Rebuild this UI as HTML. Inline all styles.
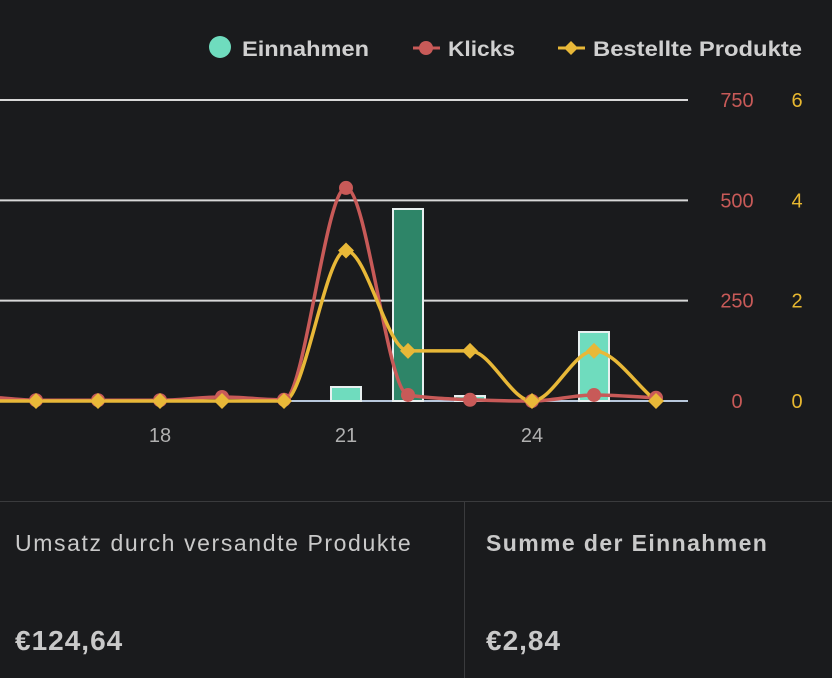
<!DOCTYPE html>
<html><head><meta charset="utf-8"><style>
body{margin:0;width:832px;height:678px;background:#1a1b1d;overflow:hidden;font-family:"Liberation Sans",sans-serif}
svg{position:absolute;left:0;top:0}
.p{position:absolute;color:#c9c9c9;white-space:nowrap}
</style></head><body>
<svg width="832" height="678" id="c"></svg>
<div class="p" style="left:0;top:501px;width:832px;height:1px;background:#3a3b3d"></div>
<div class="p" style="left:464px;top:501px;width:1px;height:177px;background:#3a3b3d"></div>
<div class="p" style="left:15px;top:530px;font-size:23px;letter-spacing:1.6px">Umsatz durch versandte Produkte</div>
<div class="p" style="left:15px;top:625px;font-size:28px;font-weight:bold;letter-spacing:1px">€124,64</div>
<div class="p" style="left:486px;top:530px;font-size:23px;font-weight:bold;letter-spacing:1.4px">Summe der Einnahmen</div>
<div class="p" style="left:486px;top:625px;font-size:28px;font-weight:bold;letter-spacing:1px">€2,84</div>
<script>
const days=[15.4,16,17,18,19,20,21,22,23,24,25,26];
const clicks=[8,2,2,2,10,3,531,15,3,0,15,8];
const orders=[0,0,0,0,0,0,3,1,1,0,1,0];
const barDays=[21,22,23,25];
const earnings=[0.14,1.92,0.05,0.69];
const xTicks=[18,21,24];
const clickTicks=[0,250,500,750];
const orderTicks=[0,2,4,6];
const NS="http://www.w3.org/2000/svg";
const svg=document.getElementById('c');
const x=d=>160+(d-18)*62;
const base=401,yTop=100;
const yC=v=>base-v/750*(base-yTop);
const yO=v=>base-v/6*(base-yTop);
const yE=v=>base-v*100;
function el(t,a,p){const e=document.createElementNS(NS,t);for(const k in a)e.setAttribute(k,a[k]);(p||svg).appendChild(e);return e;}
clickTicks.forEach((t,i)=>{
 const g=el('line',{x1:0,x2:688,y1:yC(t),y2:yC(t),stroke:i?'#d8d8d8':'#b8c8dc','stroke-width':2});
 
 
 const a=el('text',{x:737,y:yC(t)+7,'text-anchor':'middle',fill:'#c85a58','font-size':20});a.textContent=t;
 
 
});
orderTicks.forEach(t=>{
 const a=el('text',{x:797,y:yO(t)+7,'text-anchor':'middle',fill:'#e8b830','font-size':20});a.textContent=t;
 
 
});
xTicks.forEach(t=>{
 const a=el('text',{x:x(t),y:442,'text-anchor':'middle',fill:'#b0b0b0','font-size':20});a.textContent=t;
 
 
});
barDays.forEach((d,i)=>{
 const r=el('rect',{x:x(d)-15,y:yE(earnings[i]),width:30,height:base-yE(earnings[i]),fill:d===22?'#2e8568':'#6fdcbe',stroke:'#e8f0f0','stroke-width':2});
 
 
});
function path(ys){
 const X=days.map(x),n=X.length;
 const h=[],s=[];
 for(let i=0;i<n-1;i++){h[i]=X[i+1]-X[i];s[i]=(ys[i+1]-ys[i])/h[i];}
 const m=new Array(n);
 m[0]=s[0];m[n-1]=s[n-2];
 for(let i=1;i<n-1;i++){
  if(s[i-1]*s[i]<=0)m[i]=0;
  else{const p=(s[i-1]*h[i]+s[i]*h[i-1])/(h[i-1]+h[i]);
   m[i]=(Math.sign(s[i-1])+Math.sign(s[i]))*Math.min(Math.abs(s[i-1]),Math.abs(s[i]),0.5*Math.abs(p));}
 }
 let d=`M${X[0]},${ys[0]}`;
 for(let i=0;i<n-1;i++){
  const dx=h[i]/3;
  d+=` C${X[i]+dx},${ys[i]+m[i]*dx} ${X[i+1]-dx},${ys[i+1]-m[i+1]*dx} ${X[i+1]},${ys[i+1]}`;
 }
 return d;
}
const cl=el('path',{d:path(clicks.map(yC)),fill:'none',stroke:'#c85a58','stroke-width':3.5});


const ol=el('path',{d:path(orders.map(yO)),fill:'none',stroke:'#e8b838','stroke-width':3.5});


days.forEach((d,i)=>{if(i===0)return;
 const c=el('circle',{cx:x(d),cy:yC(clicks[i]),r:7,fill:'#c85a58'});
 
 
});
days.forEach((d,i)=>{if(i===0)return;
 const cx=x(d),cy=yO(orders[i]);
 const m=el('polygon',{points:`${cx},${cy-8} ${cx+8},${cy} ${cx},${cy+8} ${cx-8},${cy}`,fill:'#e8b838'});
 
 
});
const lg=el('g',{});


el('circle',{cx:220,cy:47,r:11,fill:'#6fdcbe'},lg);
let t=el('text',{x:242,y:56,fill:'#d0d0d0','font-size':21,'font-weight':'bold',textLength:127,lengthAdjust:'spacingAndGlyphs'},lg);t.textContent='Einnahmen';


el('line',{x1:413,x2:440,y1:48,y2:48,stroke:'#c85a58','stroke-width':3},lg);
el('circle',{cx:426,cy:48,r:7,fill:'#c85a58'},lg);
t=el('text',{x:448,y:56,fill:'#d0d0d0','font-size':21,'font-weight':'bold',textLength:67,lengthAdjust:'spacingAndGlyphs'},lg);t.textContent='Klicks';


el('line',{x1:558,x2:585,y1:48,y2:48,stroke:'#e8b838','stroke-width':3},lg);
el('polygon',{points:'571,41 578,48 571,55 564,48',fill:'#e8b838'},lg);
t=el('text',{x:593,y:56,fill:'#d0d0d0','font-size':21,'font-weight':'bold',textLength:209,lengthAdjust:'spacingAndGlyphs'},lg);t.textContent='Bestellte Produkte';


</script>
</body></html>
